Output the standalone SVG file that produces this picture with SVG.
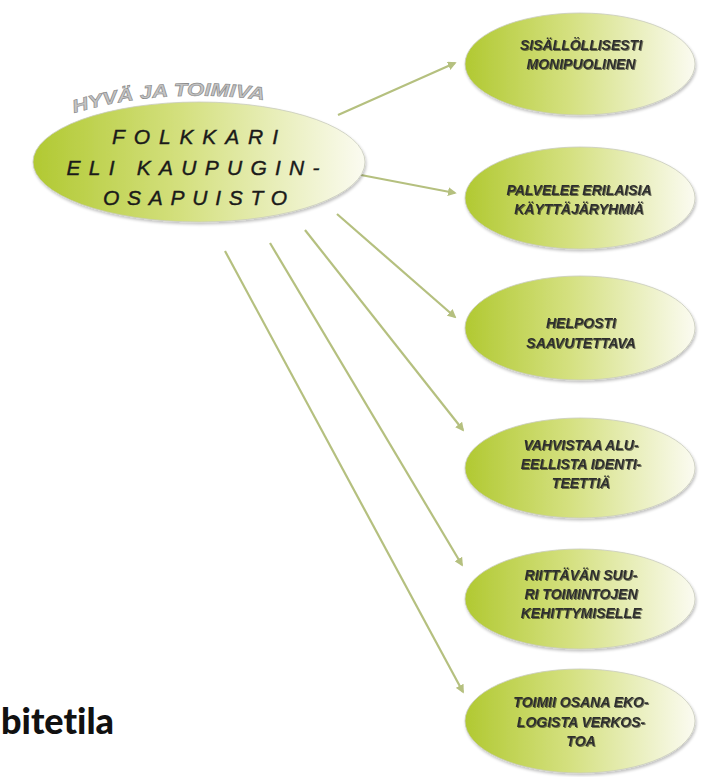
<svg xmlns="http://www.w3.org/2000/svg" width="713" height="777" viewBox="0 0 713 777">
<defs>
<linearGradient id="g" x1="0" y1="0" x2="1" y2="0">
<stop offset="0" stop-color="#b1c932"/>
<stop offset="0.45" stop-color="#d4e07f"/>
<stop offset="1" stop-color="#fbfbf1"/>
</linearGradient>
<filter id="sh" x="-10%" y="-10%" width="120%" height="130%">
<feGaussianBlur in="SourceAlpha" stdDeviation="1.5"/>
<feOffset dx="1" dy="2" result="b"/>
<feComponentTransfer><feFuncA type="linear" slope="0.25"/></feComponentTransfer>
<feMerge><feMergeNode/><feMergeNode in="SourceGraphic"/></feMerge>
</filter>
<filter id="ts" x="-5%" y="-20%" width="110%" height="140%">
<feGaussianBlur in="SourceAlpha" stdDeviation="0.6"/>
<feOffset dx="0.8" dy="0.8"/>
<feComponentTransfer><feFuncA type="linear" slope="0.5"/></feComponentTransfer>
<feMerge><feMergeNode/><feMergeNode in="SourceGraphic"/></feMerge>
</filter>
<marker id="ah" viewBox="0 0 10 10" refX="8" refY="5" markerWidth="4" markerHeight="4" orient="auto">
<path d="M0,0 L10,5 L0,10 z" fill="#b5c07f"/>
</marker>
<path id="arc" d="M 74,113 Q 165,86 270,101"/>
</defs>
<style>
.el{fill:url(#g);stroke:#c9cbbd;stroke-width:0.8;filter:url(#sh)}
.t{font-family:"Liberation Sans",Arial,sans-serif;font-weight:bold;font-style:italic;font-size:14px;fill:#2e2e2e;text-anchor:middle;filter:url(#ts)}
.c{font-family:"Liberation Sans",Arial,sans-serif;font-style:italic;font-size:21px;fill:#1a1a1a;stroke:#1a1a1a;stroke-width:0.4;text-anchor:middle}
.cn line{stroke:#b5c07f;stroke-width:2.2;marker-end:url(#ah)}
</style>
<rect width="713" height="777" fill="#ffffff"/>
<g class="cn" id="connectors">
<line x1="338" y1="115" x2="455" y2="63"/>
<line x1="361" y1="175" x2="455" y2="193"/>
<line x1="337" y1="214" x2="455" y2="317"/>
<line x1="305" y1="230" x2="463" y2="430"/>
<line x1="270" y1="243" x2="462" y2="565"/>
<line x1="225" y1="251" x2="463" y2="692"/>
</g>
<g id="center">
<ellipse class="el" cx="199" cy="162" rx="166" ry="60"/>
<text font-family="Liberation Sans,Arial,sans-serif" font-weight="bold" font-style="italic" font-size="18" fill="#c4c4c4" stroke="#8a8a8a" stroke-width="0.6"><textPath href="#arc" textLength="192" lengthAdjust="spacingAndGlyphs">HYVÄ JA TOIMIVA</textPath></text>
<text class="c" x="195" y="144" textLength="166" lengthAdjust="spacing">FOLKKARI</text>
<text class="c" x="193" y="175" textLength="253" lengthAdjust="spacing">ELI KAUPUGIN-</text>
<text class="c" x="195" y="205" textLength="184" lengthAdjust="spacing">OSAPUISTO</text>
</g>
<g id="n1">
<ellipse class="el" cx="580" cy="64" rx="115" ry="51"/>
<text class="t" x="581" y="50">SISÄLLÖLLISESTI</text>
<text class="t" x="581" y="69">MONIPUOLINEN</text>
</g>
<g id="n2">
<ellipse class="el" cx="580" cy="198" rx="115" ry="51"/>
<text class="t" x="579" y="195">PALVELEE ERILAISIA</text>
<text class="t" x="579" y="214">KÄYTTÄJÄRYHMIÄ</text>
</g>
<g id="n3">
<ellipse class="el" cx="580" cy="328" rx="115" ry="52"/>
<text class="t" x="581" y="328">HELPOSTI</text>
<text class="t" x="581" y="348">SAAVUTETTAVA</text>
</g>
<g id="n4">
<ellipse class="el" cx="580" cy="468" rx="115" ry="50"/>
<text class="t" x="581" y="450">VAHVISTAA ALU-</text>
<text class="t" x="581" y="469">EELLISTA IDENTI-</text>
<text class="t" x="581" y="488">TEETTIÄ</text>
</g>
<g id="n5">
<ellipse class="el" cx="580" cy="599" rx="115" ry="50"/>
<text class="t" x="581" y="580">RIITTÄVÄN SUU-</text>
<text class="t" x="581" y="599">RI TOIMINTOJEN</text>
<text class="t" x="581" y="618">KEHITTYMISELLE</text>
</g>
<g id="n6">
<ellipse class="el" cx="580" cy="721" rx="115" ry="52"/>
<text class="t" x="581" y="707">TOIMII OSANA EKO-</text>
<text class="t" x="581" y="727">LOGISTA VERKOS-</text>
<text class="t" x="581" y="746">TOA</text>
</g>
<text x="1" y="734" font-family="Lato,'Liberation Sans',sans-serif" font-weight="900" font-size="36" fill="#111" style="font-variant-ligatures:none">bitetila</text>
</svg>
